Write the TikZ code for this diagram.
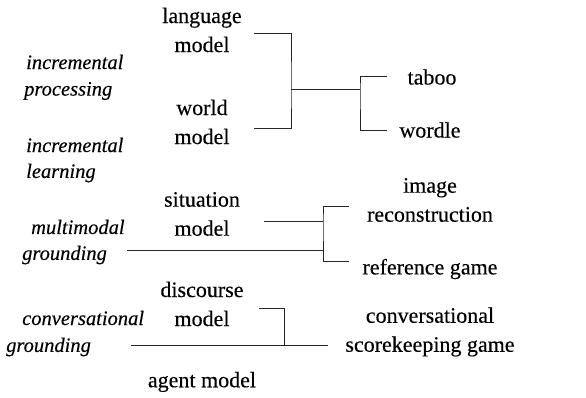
\documentclass[tikz,border=0pt]{standalone}
\usepackage{fontspec}
\setmainfont{Liberation Serif}[FakeBold=0.3]
\begin{document}
\begin{tikzpicture}[x=1pt,y=-1pt,
  every node/.style={font=\fontsize{22}{29}\selectfont, align=center, inner sep=0pt},
  lab/.style={font=\fontsize{20.5}{29}\selectfont\itshape, anchor=west},
  link/.style={line width=0.9pt, draw=black!85}]
\useasboundingbox (0,0) rectangle (586,398);

% model column
\node (lm) at (202,30) {language\\model};
\node (wm) at (202,122) {world\\model};
\node (sm) at (202,214) {situation\\model};
\node (dm) at (202,304) {discourse\\model};
\node (am) at (202,382) {agent model};

% phenomena (italic, left)
\node[lab] (ip1) at (26,62) {incremental};
\node[lab] (ip2) at (24,91) {processing};
\node[lab] (il1) at (26,145) {incremental};
\node[lab] (il2) at (26,173) {learning};
\node[lab] (mg1) at (31,227) {multimodal};
\node[lab] (mg2) at (22,255) {grounding};
\node[lab] (cg1) at (22,318) {conversational};
\node[lab] (cg2) at (6,347) {grounding};

% games (right)
\node (tb) at (432,77) {taboo};
\node (wd) at (430,130) {wordle};
\node (ir) at (430,200) {image\\reconstruction};
\node (rg) at (430,269) {reference game};
\node (cs) at (430,332) {conversational\\scorekeeping game};

% connector end points
\coordinate (lmR) at (254,33);
\coordinate (wmR) at (254,128);
\coordinate (j1) at (291,89);
\coordinate (j2) at (360,89);
\coordinate (tbL) at (387,76);
\coordinate (wdL) at (387,130);

\coordinate (smR) at (264,221);
\coordinate (j3) at (323,221);
\coordinate (mgR) at (127,250);
\coordinate (j4) at (323,250);
\coordinate (irL) at (349,206);
\coordinate (rgL) at (349,261);

\coordinate (dmR) at (259,308);
\coordinate (j5) at (284,345);
\coordinate (cgR) at (131,345);
\coordinate (csL) at (328,345);

% language/world model bracket to taboo/wordle
\draw[link] (lmR) -| (j1) |- (wmR);
\draw[link] (j1) -- (j2);
\draw[link] (tbL) -| (j2) |- (wdL);

% situation model and multimodal grounding
\draw[link] (smR) -- (j3);
\draw[link] (mgR) -- (j4);
\draw[link] (irL) -| (j3) |- (rgL);

% discourse/agent model and conversational grounding
\draw[link] (dmR) -| (j5);
\draw[link] (cgR) -- (csL);
\end{tikzpicture}
\end{document}
